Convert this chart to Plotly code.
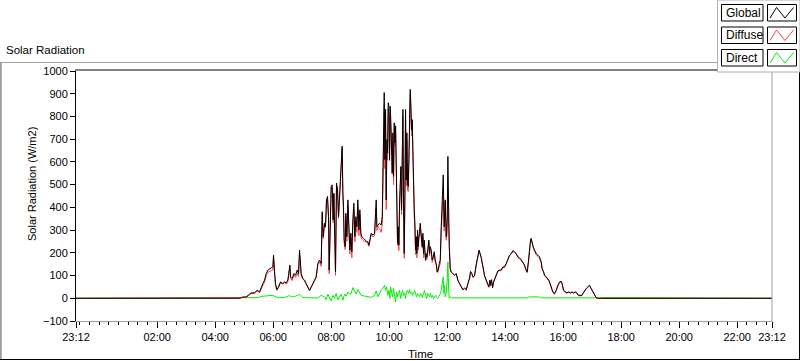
import pandas as pd
import plotly.graph_objects as go

# ---------------- data (minutes after midnight of the logged day) ----------------
gd_minutes = [
    -48, 292, 297, 304, 311, 314.5, 321.4, 326.9, 331.7, 335.2,
    338.6, 342.1, 345.5, 349.0, 352.4, 355.9, 359.3, 360.7, 362.8, 364.8,
    367.6, 371.0, 375.2, 380.0, 383.5, 386.9, 390.3, 392.4, 394.5, 395.9,
    399.3, 402.8, 406.2, 409.7, 412.4, 414.5, 415.9, 417.9, 421.3, 424.8,
    428.2, 431.7, 435.1, 438.6, 442.0, 445.5, 448.9, 452.4, 455.8, 459.3,
    461.4, 463.4, 466.2, 468.2, 470.3, 472.4, 474.5, 475.8, 477.9, 480.0,
    482.0, 484.1, 485.5, 487.6, 488.9, 491.0, 493.1, 495.1, 497.2, 499.3,
    501.4, 502.7, 504.1, 505.5, 506.9, 509.0, 510.3, 512.4, 514.5, 516.5,
    518.6, 520.7, 522.7, 524.8, 526.9, 528.9, 531.0, 533.1, 535.1, 537.2,
    539.3, 541.4, 543.4, 546.9, 550.3, 553.8, 555.8, 557.9, 560.0, 562.8,
    566.2, 569.7, 571.8, 573.1, 574.5, 576.6, 580.0, 583.5, 585.6, 586.9,
    588.3, 589.7, 591.1, 592.5, 593.8, 595.2, 596.6, 598.0, 599.4, 600.7,
    602.1, 603.5, 604.9, 606.3, 607.6, 609.0, 610.4, 611.8, 613.2, 614.5,
    615.9, 617.3, 618.7, 620.0, 621.4, 622.8, 624.2, 625.6, 626.9, 628.3,
    629.7, 631.1, 632.5, 633.8, 635.2, 636.6, 638.0, 639.4, 640.7, 642.1,
    643.5, 644.9, 646.3, 647.6, 649.0, 650.4, 651.8, 653.2, 654.5, 655.9,
    657.3, 658.7, 660.0, 661.4, 662.8, 664.2, 665.6, 666.9, 668.3, 669.7,
    671.1, 672.5, 673.8, 675.2, 676.6, 678.0, 680.1, 682.1, 683.5, 684.9,
    687.0, 689.0, 691.1, 693.2, 695.2, 697.3, 699.4, 701.4, 703.5, 705.6,
    707.6, 709.0, 710.4, 711.8, 713.8, 715.9, 718.0, 720.1, 721.4, 722.8,
    724.2, 726.3, 728.3, 731.8, 735.2, 738.7, 742.1, 745.6, 749.0, 752.5,
    755.9, 759.4, 762.8, 766.3, 768.3, 771.1, 773.2, 776.6, 780.1, 783.5,
    786.0, 790.4, 793.9, 797.3, 800.7, 804.2, 806.2, 808.3, 809.7, 811.7,
    813.8, 815.9, 818.0, 821.4, 824.9, 828.3, 831.8, 835.2, 838.6, 842.1,
    845.5, 849.0, 852.4, 855.9, 859.3, 862.8, 866.2, 869.7, 873.1, 876.6,
    880.0, 883.4, 885.5, 888.3, 890.3, 892.4, 893.8, 895.9, 897.9, 900.7,
    904.1, 907.6, 911.0, 914.5, 916.5, 919.3, 921.4, 924.8, 928.3, 930.3,
    932.4, 935.2, 938.6, 942.1, 945.5, 949.0, 952.4, 955.9, 957.9, 960.7,
    964.1, 967.6, 971.0, 974.5, 977.9, 981.4, 984.8, 988.3, 991.7, 995.2,
    998.6, 1000.7, 1004.1, 1007.6, 1011.0, 1014.5, 1017.9, 1021.4, 1024.8, 1028.3,
    1031.7, 1042.1, 1044.1, 1052.4, 1054.5, 1392,
]

global_wm2 = [
    0, 0, 6, 6, 18, 24, 24, 35, 28, 50,
    65, 80, 109, 124, 131, 134, 138, 190, 116, 65,
    38, 50, 72, 65, 72, 68, 80, 109, 146, 94,
    87, 109, 102, 124, 109, 212, 153, 109, 87, 80,
    65, 50, 35, 50, 65, 80, 94, 153, 168, 153,
    381, 271, 330, 315, 433, 448, 359, 124, 403, 492,
    499, 345, 462, 227, 116, 507, 477, 359, 433, 551,
    610, 669, 463, 403, 256, 227, 374, 271, 433, 315,
    212, 286, 205, 345, 418, 271, 359, 315, 433, 300,
    389, 286, 271, 264, 256, 249, 249, 234, 256, 286,
    278, 286, 374, 433, 315, 322, 330, 322, 359, 521,
    742, 905, 610, 831, 433, 698, 639, 860, 845, 610,
    845, 772, 669, 551, 728, 536, 772, 684, 757, 610,
    433, 242, 315, 234, 418, 566, 580, 389, 551, 831,
    418, 197, 463, 831, 521, 728, 507, 492, 610, 905,
    919, 845, 742, 786, 610, 566, 389, 330, 212, 271,
    197, 300, 227, 271, 286, 330, 286, 256, 227, 286,
    197, 256, 212, 168, 197, 182, 219, 256, 197, 227,
    212, 168, 182, 205, 168, 153, 116, 124, 153, 168,
    315, 433, 463, 543, 315, 433, 271, 359, 624, 389,
    227, 131, 116, 109, 102, 109, 80, 65, 50, 38,
    45, 38, 65, 90, 118, 109, 94, 100, 150, 190,
    212, 180, 138, 100, 80, 65, 50, 80, 57, 82,
    47, 72, 85, 102, 121, 124, 124, 138, 138, 153,
    175, 190, 197, 209, 205, 197, 182, 178, 170, 160,
    146, 124, 116, 168, 227, 256, 264, 242, 227, 212,
    197, 190, 182, 160, 131, 117, 102, 94, 87, 80,
    68, 50, 28, 21, 35, 57, 72, 75, 65, 35,
    28, 24, 28, 24, 28, 24, 28, 24, 13, 13,
    13, 21, 35, 43, 50, 57, 43, 28, 13, 3,
    0, 0, 3, 3, 0, 0,
]

diffuse_wm2 = [
    0, 0, 3, 3, 15, 21, 21, 32, 25, 44,
    57, 71, 99, 114, 119, 122, 125, 178, 106, 56,
    35, 47, 69, 62, 69, 62, 71, 98, 136, 88,
    78, 103, 92, 111, 96, 195, 143, 99, 84, 77,
    62, 47, 32, 47, 62, 77, 91, 150, 160, 140,
    370, 262, 324, 312, 428, 436, 345, 108, 390, 488,
    488, 333, 458, 210, 100, 498, 478, 352, 426, 534,
    595, 660, 468, 390, 242, 214, 360, 250, 410, 296,
    194, 265, 178, 310, 392, 248, 335, 290, 400, 275,
    370, 270, 260, 253, 248, 242, 243, 228, 250, 282,
    270, 275, 345, 398, 298, 315, 308, 290, 320, 480,
    700, 850, 570, 790, 390, 655, 610, 835, 815, 605,
    800, 740, 650, 545, 690, 500, 750, 670, 760, 585,
    410, 232, 295, 210, 385, 535, 575, 368, 520, 800,
    405, 176, 445, 825, 495, 695, 475, 470, 580, 865,
    895, 820, 715, 772, 590, 540, 360, 305, 192, 262,
    178, 285, 212, 265, 275, 312, 272, 248, 222, 268,
    178, 228, 200, 165, 190, 170, 208, 248, 186, 210,
    206, 158, 178, 196, 158, 148, 112, 120, 142, 150,
    285, 385, 405, 445, 295, 425, 255, 290, 470, 340,
    226, 127, 114, 107, 100, 107, 78, 63, 48, 36,
    43, 36, 63, 86, 112, 106, 92, 97, 146, 186,
    208, 177, 135, 97, 78, 63, 48, 76, 55, 79,
    45, 70, 83, 99, 118, 121, 122, 135, 136, 150,
    172, 187, 194, 206, 202, 194, 180, 175, 167, 157,
    143, 121, 112, 160, 220, 250, 258, 236, 222, 206,
    191, 184, 176, 157, 128, 114, 99, 91, 84, 77,
    65, 47, 25, 18, 32, 53, 69, 72, 62, 33,
    26, 22, 26, 22, 26, 22, 26, 22, 11, 11,
    11, 19, 33, 41, 48, 55, 41, 26, 11, 2,
    0, 0, 2, 2, 0, 0,
]

direct_minutes = [
    -48, 292, 297.2, 314.5, 328.3, 338.6, 349.0, 359.3, 362.8, 369.7,
    383.5, 390.3, 393.8, 397.2, 400.7, 404.1, 407.6, 411.0, 414.5, 417.9,
    421.4, 426.2, 452.4, 459.3, 466.2, 469.7, 473.1, 480.0, 483.5, 486.9,
    490.3, 493.8, 497.2, 500.7, 504.1, 507.6, 511.0, 514.5, 517.9, 521.4,
    524.8, 528.3, 531.7, 535.2, 538.6, 542.1, 549.0, 555.9, 562.8, 569.7,
    573.1, 576.6, 580.0, 583.5, 587.0, 590.4, 592.5, 594.5, 597.3, 599.4,
    601.4, 602.8, 604.9, 607.0, 609.0, 611.1, 613.1, 615.2, 617.3, 619.4,
    621.4, 623.5, 625.6, 627.6, 629.7, 631.8, 633.8, 635.9, 638.0, 640.0,
    642.1, 644.2, 646.3, 648.3, 650.4, 652.5, 654.5, 656.6, 658.7, 660.7,
    662.8, 664.9, 667.0, 669.0, 671.1, 673.2, 675.2, 677.3, 679.4, 681.4,
    683.5, 685.6, 687.6, 689.7, 691.8, 693.8, 695.9, 698.0, 700.0, 702.1,
    704.2, 706.3, 707.6, 709.7, 711.7, 713.1, 714.5, 715.9, 717.9, 720.0,
    721.4, 722.8, 724.2, 726.2, 728.3, 887.0, 889.0, 911.0, 913.0, 1031.7,
    1033.0, 1044.0, 1052.0, 1054.0, 1392,
]

direct_wm2 = [
    0, 0, 3, 3, 3, 9, 10, 13, 9, 3,
    3, 9, 12, 6, 9, 6, 12, 13, 18, 10,
    3, 3, 1, 13, 6, -6, 18, -12, 13, 0,
    21, -6, 6, 18, -9, 18, 9, 28, 18, 21,
    47, 28, 18, 38, 28, 13, 10, 6, 4, 12,
    32, 6, 21, 35, 43, 57, 35, 50, 13, 35,
    -1, 50, 28, 6, 43, 21, -16, 28, 6, 21,
    35, -1, 21, 35, 13, 21, -1, 28, 35, 21,
    38, 21, 28, 13, 21, 35, 21, 6, 21, 13,
    6, 21, 13, 3, 21, 35, 13, -1, 21, 13,
    6, 21, 3, 13, -1, 6, 13, 3, -1, 6,
    13, 21, 35, 57, 94, 21, 57, 6, 21, 80,
    160, 50, 0, 6, 2, 2, 6, 6, 2, 2,
    0, 3, 3, 0, 0,
]

x_tick_times = ["2024-01-01 23:12", "2024-01-02 02:00", "2024-01-02 04:00",
                "2024-01-02 06:00", "2024-01-02 08:00", "2024-01-02 10:00",
                "2024-01-02 12:00", "2024-01-02 14:00", "2024-01-02 16:00",
                "2024-01-02 18:00", "2024-01-02 20:00", "2024-01-02 22:00",
                "2024-01-02 23:12"]
x_tick_labels = ["23:12", "02:00", "04:00", "06:00", "08:00", "10:00", "12:00",
                 "14:00", "16:00", "18:00", "20:00", "22:00", "23:12"]
y_tick_values = [-100, 0, 100, 200, 300, 400, 500, 600, 700, 800, 900, 1000]
series_names = ["Global", "Diffuse", "Direct"]
series_colors = ["#000000", "#ff4040", "#00f000"]

assert len(gd_minutes) == len(global_wm2) == len(diffuse_wm2)
assert len(direct_minutes) == len(direct_wm2)

base = pd.Timestamp("2024-01-02 00:00")
t_gd = base + pd.to_timedelta(gd_minutes, unit="min")
t_dir = base + pd.to_timedelta(direct_minutes, unit="min")

FONT = "Liberation Sans"
W, H = 800, 361
L, R, T, B = 76, 28, 71, 40
PW, PH = W - L - R, H - T - B


def px(x):
    return (x - L) / PW


def py(y):
    return (H - B - y) / PH


fig = go.Figure()
fig.add_trace(go.Scatter(x=t_dir, y=direct_wm2, mode="lines", name="Direct",
                         line=dict(color=series_colors[2], width=1)))
fig.add_trace(go.Scatter(x=t_gd, y=diffuse_wm2, mode="lines", name="Diffuse",
                         line=dict(color=series_colors[1], width=1)))
fig.add_trace(go.Scatter(x=t_gd, y=global_wm2, mode="lines", name="Global",
                         line=dict(color=series_colors[0], width=1)))

minor_vals = list(pd.date_range("2024-01-01 23:20", "2024-01-02 23:12", freq="20min"))

fig.update_layout(
    width=W, height=H, showlegend=False,
    margin=dict(l=L, r=R, t=T, b=B, pad=0),
    paper_bgcolor="white", plot_bgcolor="white",
    font=dict(family=FONT, size=11, color="#000000"),
    xaxis=dict(
        type="date",
        range=[x_tick_times[0], x_tick_times[-1]],
        tickmode="array", tickvals=x_tick_times, ticktext=x_tick_labels,
        ticks="outside", ticklen=6, tickcolor="#000000", tickwidth=1,
        showgrid=False, zeroline=False,
        showline=True, linecolor="#a0a0a0", linewidth=1,
        tickfont=dict(family=FONT, size=11, color="#000000"),
        minor=dict(tickmode="array", tickvals=minor_vals, ticks="outside",
                   ticklen=3, tickcolor="#000000", tickwidth=1, showgrid=False),
    ),
    yaxis=dict(
        range=[-100, 1000],
        tickmode="array", tickvals=y_tick_values,
        ticks="outside", ticklen=5, tickcolor="#000000", tickwidth=1,
        showgrid=False, zeroline=False,
        showline=True, linecolor="#000000", linewidth=1,
        tickfont=dict(family=FONT, size=11, color="#000000"),
    ),
)

shapes = []
# plot frame: top black, right gray
shapes.append(dict(type="line", xref="paper", yref="paper", x0=px(75), x1=px(772),
                   y0=py(70), y1=py(70), line=dict(color="#000000", width=1)))
shapes.append(dict(type="line", xref="paper", yref="paper", x0=px(772), x1=px(772),
                   y0=py(70), y1=py(321.5), line=dict(color="#a0a0a0", width=1)))
# outer frame
shapes.append(dict(type="line", xref="paper", yref="paper", x0=px(0), x1=px(717.5),
                   y0=py(62.5), y1=py(62.5), line=dict(color="#a0a0a0", width=1)))
shapes.append(dict(type="line", xref="paper", yref="paper", x0=px(0.8), x1=px(0.8),
                   y0=py(62.5), y1=py(359.5), line=dict(color="#a0a0a0", width=2)))
shapes.append(dict(type="line", xref="paper", yref="paper", x0=px(0), x1=px(800),
                   y0=py(359.5), y1=py(359.5), line=dict(color="#000000", width=1)))
shapes.append(dict(type="line", xref="paper", yref="paper", x0=px(799.5), x1=px(799.5),
                   y0=py(72), y1=py(359.5), line=dict(color="#000000", width=1)))
# legend panel
shapes.append(dict(type="rect", xref="paper", yref="paper", x0=px(717.5), x1=px(800),
                   y0=py(0), y1=py(72), line=dict(color="#b0b0b0", width=1),
                   fillcolor="white"))

annotations = []
row_top = [4.5, 27, 49.5]
for i, name in enumerate(series_names):
    y0, y1 = row_top[i], row_top[i] + 16.5
    shapes.append(dict(type="rect", xref="paper", yref="paper", x0=px(721.5), x1=px(763),
                       y0=py(y0), y1=py(y1), line=dict(color="#000000", width=1),
                       fillcolor="white"))
    shapes.append(dict(type="rect", xref="paper", yref="paper", x0=px(767.5), x1=px(796.5),
                       y0=py(y0), y1=py(y1), line=dict(color="#000000", width=1),
                       fillcolor="white"))
    zig = [(770, y0 + 13.5), (776.5, y0 + 3), (785, y0 + 13.5), (793.5, y0 + 3)]
    path = "M " + " L ".join(f"{px(a):.5f},{py(b):.5f}" for a, b in zig)
    shapes.append(dict(type="path", xref="paper", yref="paper", path=path,
                       line=dict(color=series_colors[i], width=1)))
    annotations.append(dict(xref="paper", yref="paper", x=px(724), y=py((y0 + y1) / 2),
                            text=name, showarrow=False, xanchor="left", yanchor="middle",
                            font=dict(family=FONT, size=12, color="#000000")))

annotations.append(dict(xref="paper", yref="paper", x=px(4), y=py(50), text="Solar Radiation",
                        showarrow=False, xanchor="left", yanchor="middle",
                        font=dict(family=FONT, size=11.5, color="#000000")))
annotations.append(dict(xref="paper", yref="paper", x=px(32), y=py(184),
                        text="Solar Radiation (W/m2)", textangle=-90, showarrow=False,
                        xanchor="center", yanchor="middle",
                        font=dict(family=FONT, size=11, color="#000000")))
annotations.append(dict(xref="paper", yref="paper", x=px(420), y=py(353.5), text="Time",
                        showarrow=False, xanchor="center", yanchor="middle",
                        font=dict(family=FONT, size=11.5, color="#000000")))

fig.update_layout(shapes=shapes, annotations=annotations)
fig.write_html("out.html", config={"displayModeBar": False, "staticPlot": True},
               post_script="document.body.style.margin='0';document.body.style.overflow='hidden';")
